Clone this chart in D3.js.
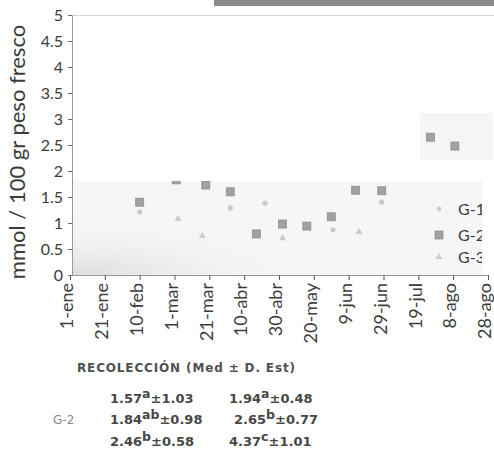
<!DOCTYPE html>
<html>
<head>
<meta charset="utf-8">
<script src="https://cdn.jsdelivr.net/npm/d3@7"></script>
<style>
  html, body { margin: 0; padding: 0; background: #fff; }
  svg { display: block; }
</style>
</head>
<body>
<svg id="chart" width="494" height="450"></svg>
<script>
// Sampling dates and measured values, mmol / 100 gr peso fresco
const g2Dates  = ["2008-02-10","2008-03-02","2008-03-19","2008-04-02","2008-04-17","2008-05-02","2008-05-16","2008-05-30","2008-06-13","2008-06-28","2008-07-26","2008-08-09"];
const g2Values = [1.40, 1.83, 1.73, 1.60, 0.79, 0.98, 0.94, 1.12, 1.63, 1.62, 2.65, 2.48];

const g1Dates  = ["2008-02-10","2008-04-02","2008-04-22","2008-05-31","2008-06-28"];
const g1Values = [1.21, 1.29, 1.38, 0.87, 1.40];

const g3Dates  = ["2008-03-03","2008-03-17","2008-05-02","2008-06-15"];
const g3Values = [1.08, 0.75, 0.71, 0.83];

const yTicks = [0, 0.5, 1, 1.5, 2, 2.5, 3, 3.5, 4, 4.5, 5];
const monthNames = ["ene","feb","mar","abr","may","jun","jul","ago","sep","oct","nov","dic"];

const legendLabels = ["G-1", "G-2", "G-3"];

// Summary table (Med ± D. Est)
const tableCol1Means = ["1.57", "1.84", "2.46"];
const tableCol1Sups  = ["a", "ab", "b"];
const tableCol1Sds   = ["1.03", "0.98", "0.58"];
const tableCol2Means = ["1.94", "2.65", "4.37"];
const tableCol2Sups  = ["a", "b", "c"];
const tableCol2Sds   = ["0.48", "0.77", "1.01"];
const tableRowLabel  = "G-2";

const parse = d3.timeParse("%Y-%m-%d");
const svg = d3.select("#chart");

const x = d3.scaleTime()
  .domain([parse("2008-01-01"), parse("2008-08-28")])
  .range([70, 488]);
const y = d3.scaleLinear().domain([0, 5]).range([275, 15]);

// ticks every 20 days from 1 January
const xTicks = d3.range(0, 13).map(i => d3.timeDay.offset(parse("2008-01-01"), i * 20));
const fmtDate = d => d.getDate() + "-" + monthNames[d.getMonth()];

// header bar
svg.append("rect").attr("x", 214).attr("y", 0).attr("width", 280).attr("height", 6).attr("fill", "#8a8a8a");

// plot panels
const defs = svg.append("defs");
const haze = defs.append("radialGradient").attr("id", "haze")
  .attr("cx", "0").attr("cy", "1").attr("r", "0.6");
haze.append("stop").attr("offset", "0%").attr("stop-color", "#dadada").attr("stop-opacity", 0.9);
haze.append("stop").attr("offset", "100%").attr("stop-color", "#f4f4f4").attr("stop-opacity", 0);

const clip = defs.append("clipPath").attr("id", "panels");
clip.append("rect").attr("x", 72).attr("y", 181).attr("width", 410).attr("height", 94);
clip.append("rect").attr("x", 420).attr("y", 113).attr("width", 73).attr("height", 47);

svg.append("rect").attr("x", 72).attr("y", 181).attr("width", 410).attr("height", 94).attr("fill", "#f6f6f6");
svg.append("rect").attr("x", 72).attr("y", 181).attr("width", 410).attr("height", 94).attr("fill", "url(#haze)");
svg.append("rect").attr("x", 420).attr("y", 113).attr("width", 73).attr("height", 47).attr("fill", "#f5f5f5");

// top frame line
svg.append("line").attr("x1", 72).attr("x2", 494).attr("y1", 15.5).attr("y2", 15.5)
  .attr("stroke", "#d4d4d4").attr("stroke-width", 1);

// y axis
const yAxis = svg.append("g").attr("transform", "translate(72,0)")
  .call(d3.axisLeft(y).tickValues(yTicks).tickFormat(d => String(d)).tickSize(4).tickPadding(5));
yAxis.select(".domain").attr("stroke", "#9a9a9a");
yAxis.selectAll(".tick line").attr("stroke", "#666");
yAxis.selectAll("text").attr("font-family", "Lato, sans-serif").attr("font-size", 16).attr("fill", "#3c3c3c");

// x axis
const xAxis = svg.append("g").attr("transform", "translate(0,275)")
  .call(d3.axisBottom(x).tickValues(xTicks).tickFormat(fmtDate).tickSize(5).tickSizeOuter(0));
xAxis.select(".domain").attr("stroke", "#9a9a9a");
xAxis.selectAll(".tick line").attr("stroke", "#555");
xAxis.selectAll("text")
  .attr("font-family", "Lato, sans-serif").attr("font-size", 18).attr("fill", "#3c3c3c")
  .attr("text-anchor", "end")
  .attr("transform", "rotate(-90)")
  .attr("x", -8).attr("y", 0).attr("dy", "0.15em");

// y title
svg.append("text")
  .attr("transform", "translate(25,152) rotate(-90)")
  .attr("text-anchor", "middle")
  .attr("font-family", "Lato, sans-serif").attr("font-size", 22).attr("fill", "#3c3c3c")
  .text("mmol / 100 gr peso fresco");

// data marks
const marks = svg.append("g").attr("clip-path", "url(#panels)");
const tri = d3.symbol().type(d3.symbolTriangle).size(22);

marks.selectAll(".g1").data(g1Dates.map((d, i) => ({ d: parse(d), v: g1Values[i] })))
  .join("circle").attr("class", "g1")
  .attr("cx", p => x(p.d)).attr("cy", p => y(p.v)).attr("r", 2.6)
  .attr("fill", "#c9c9c9");

marks.selectAll(".g3").data(g3Dates.map((d, i) => ({ d: parse(d), v: g3Values[i] })))
  .join("path").attr("class", "g3")
  .attr("transform", p => `translate(${x(p.d)},${y(p.v)})`).attr("d", tri)
  .attr("fill", "#cbcbcb");

marks.selectAll(".g2").data(g2Dates.map((d, i) => ({ d: parse(d), v: g2Values[i] })))
  .join("rect").attr("class", "g2")
  .attr("x", p => x(p.d) - 4).attr("y", p => y(p.v) - 4).attr("width", 8).attr("height", 8)
  .attr("fill", "#a2a2a2").attr("stroke", "#8e8e8e").attr("stroke-width", 0.8);

// legend
const legY = [209, 235, 257];
const leg = svg.append("g").attr("clip-path", "url(#panels)");
leg.append("circle").attr("cx", 439).attr("cy", legY[0]).attr("r", 2.4).attr("fill", "#cfcfcf");
leg.append("rect").attr("x", 435).attr("y", legY[1] - 4).attr("width", 8).attr("height", 8)
  .attr("fill", "#a2a2a2").attr("stroke", "#8e8e8e").attr("stroke-width", 0.8);
leg.append("path").attr("transform", `translate(439,${legY[2]})`).attr("d", tri).attr("fill", "#d0d0d0");
leg.selectAll(".lt").data(legendLabels).join("text").attr("class", "lt")
  .attr("x", 458).attr("y", (d, i) => legY[i]).attr("dy", "0.35em")
  .attr("font-family", "Lato, sans-serif").attr("font-size", 16).attr("fill", "#3c3c3c")
  .text(d => d);

// table header
svg.append("text").attr("x", 77).attr("y", 372)
  .attr("font-family", "DejaVu Sans, sans-serif").attr("font-size", 12).attr("font-weight", 600)
  .attr("fill", "#505050").attr("textLength", 218).attr("lengthAdjust", "spacing")
  .text("RECOLECCIÓN (Med ± D. Est)");

// table body
const rowY = [403, 424, 446];
function cell(xPos, yPos, mean, sup, sd) {
  const t = svg.append("text").attr("x", xPos).attr("y", yPos)
    .attr("font-family", "DejaVu Sans, sans-serif").attr("font-size", 13).attr("font-weight", "bold")
    .attr("fill", "#474747");
  t.append("tspan").text(mean);
  t.append("tspan").attr("dy", -5).attr("font-size", 12.5).text(sup);
  t.append("tspan").attr("dy", 5).text("±" + sd);
}
rowY.forEach((ry, i) => {
  cell(110, ry, tableCol1Means[i], tableCol1Sups[i], tableCol1Sds[i]);
  cell(i === 1 ? 234 : 229, ry, tableCol2Means[i], tableCol2Sups[i], tableCol2Sds[i]);
});
svg.append("text").attr("x", 53).attr("y", rowY[1])
  .attr("font-family", "DejaVu Sans, sans-serif").attr("font-size", 12).attr("fill", "#8a8a8a")
  .text(tableRowLabel);
</script>
</body>
</html>
